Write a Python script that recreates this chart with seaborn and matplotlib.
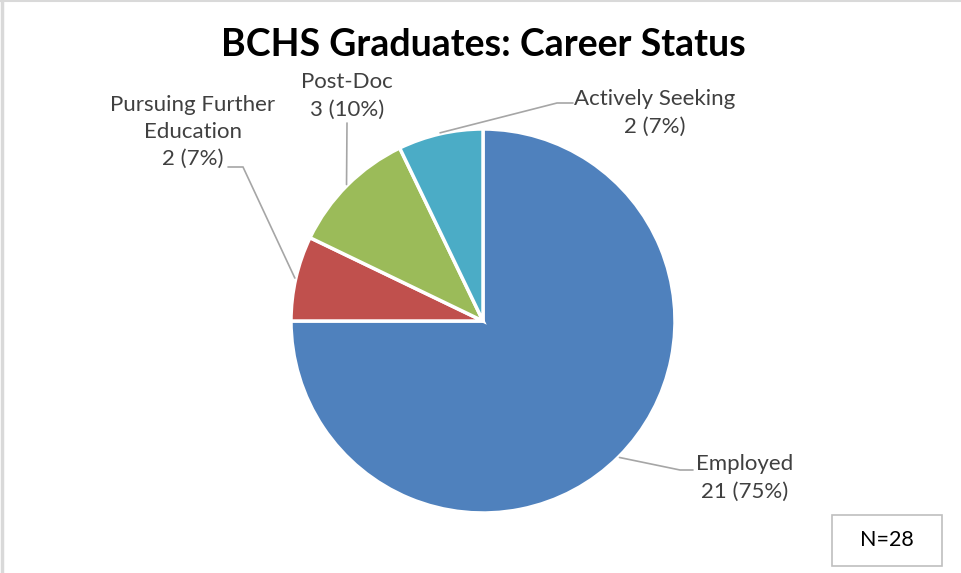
import matplotlib.pyplot as plt
import numpy as np
import seaborn as sns

# Data
statuses = ['Employed', 'Pursuing Further\nEducation', 'Post-Doc', 'Actively Seeking']
counts = [21, 2, 3, 2]
pct_labels = [75, 7, 10, 7]
colors = ['#4F81BD', '#C0504D', '#9BBB59', '#4BACC6']
total = 28

sns.set_theme(style='white')
plt.rcParams['font.family'] = ['Lato', 'DejaVu Sans']

fig = plt.figure(figsize=(9.61, 5.73), dpi=100)
ax = fig.add_axes([0, 0, 1, 1])

cx, cy, r = 483, 252, 192
wedges, _ = ax.pie(counts, colors=colors, startangle=90, counterclock=False,
                   center=(cx, cy), radius=r, frame=True,
                   wedgeprops=dict(edgecolor='white', linewidth=2.5))
ax.set_xlim(0, 961)
ax.set_ylim(0, 573)
ax.set_aspect('equal')
ax.axis('off')

# label layout: text center, elbow, line end (pixels from top-left)
layout = [
    dict(text=(745, 478), elbow=(680, 470), end=(693, 470)),
    dict(text=(193, 132), elbow=(243, 167), end=(228, 167)),
    dict(text=(347, 96), elbow=(347, 123), end=(347, 123)),
    dict(text=(655, 113), elbow=(557, 103), end=(573, 103)),
]

for w, n, p, name, lay in zip(wedges, counts, pct_labels, statuses, layout):
    mid = np.deg2rad((w.theta1 + w.theta2) / 2)
    sx, sy = cx + (r + 1) * np.cos(mid), cy + (r + 1) * np.sin(mid)
    ex, ey = lay['elbow'][0], 573 - lay['elbow'][1]
    tx, ty = lay['end'][0], 573 - lay['end'][1]
    ax.plot([sx, ex, tx], [sy, ey, ty], color='#A6A6A6', lw=1.2, solid_joinstyle='miter')
    ax.text(lay['text'][0], 573 - lay['text'][1], f'{name}\n{n} ({p}%)',
            ha='center', va='center', fontsize=16, color='#404040', linespacing=1.45)

ax.text(483, 573 - 45, 'BCHS Graduates: Career Status', ha='center', va='center',
        fontsize=27, fontweight='bold', color='black')

# N box
ax.add_patch(plt.Rectangle((832, 573 - 566), 110, 51, fill=False, edgecolor='#BFBFBF', lw=1.2))
ax.text(887, 573 - 540, f'N={total}', ha='center', va='center', fontsize=15.5, color='black')

# chart border (left and top)
ax.plot([1.5, 1.5], [0, 573], color='#D9D9D9', lw=2.5)
ax.plot([0, 961], [572.5, 572.5], color='#D9D9D9', lw=1.5)

fig.savefig('out.png', dpi=100)
